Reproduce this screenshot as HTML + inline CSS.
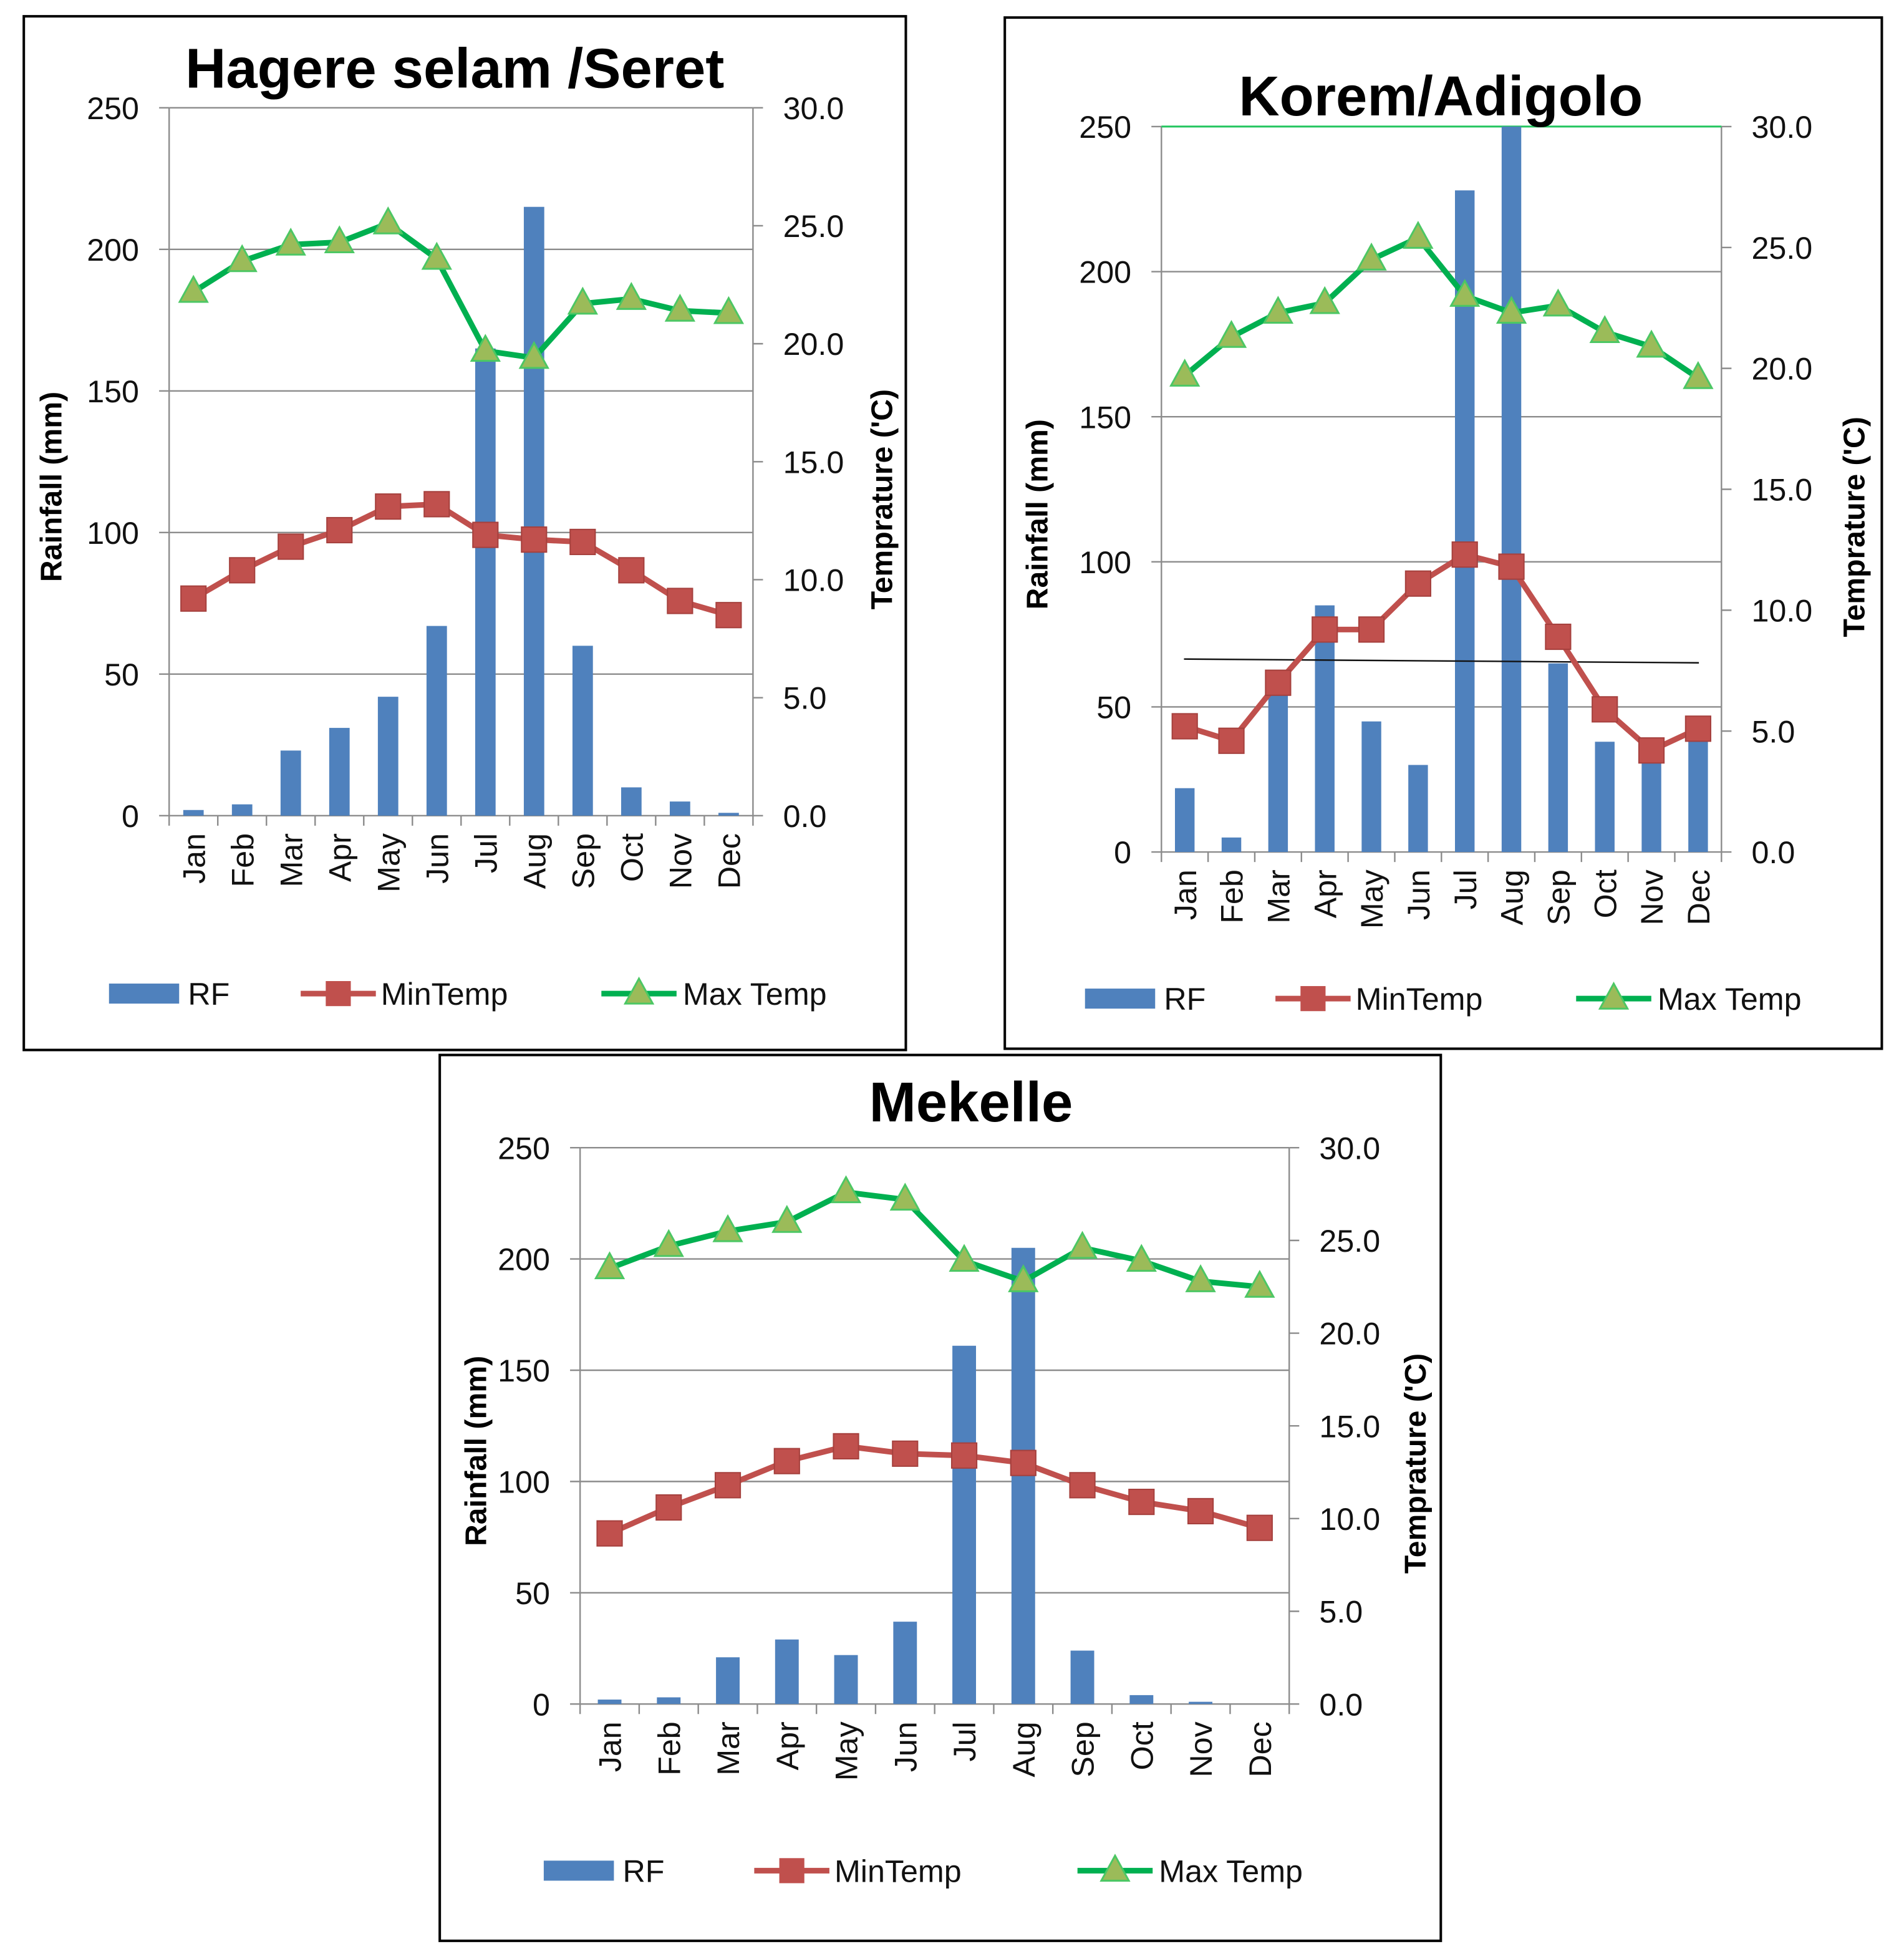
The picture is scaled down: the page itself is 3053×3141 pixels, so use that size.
<!DOCTYPE html>
<html><head><meta charset="utf-8"><style>
html,body{margin:0;padding:0;background:#fff;}
svg{display:block;}
text{font-family:"Liberation Sans",sans-serif;}
</style></head><body>
<svg id="fig" width="3053" height="3141" viewBox="0 0 1519.7 1563.5" xmlns="http://www.w3.org/2000/svg"></svg>
<script>
const months = ["Jan","Feb","Mar","Apr","May","Jun","Jul","Aug","Sep","Oct","Nov","Dec"];
const rfTicks = [0,50,100,150,200,250];
const tempTicks = ["0.0","5.0","10.0","15.0","20.0","25.0","30.0"];

const hagereRF = [2,4,23,31,42,67,165,215,60,10,5,1];
const hagereMin = [9.2,10.4,11.4,12.1,13.1,13.2,11.9,11.7,11.6,10.4,9.1,8.5];
const hagereMax = [22.2,23.5,24.2,24.3,25.1,23.6,19.7,19.4,21.7,21.9,21.4,21.3];

const koremRF = [22,5,55,85,45,30,228,250,65,38,35,40];
const koremMin = [5.2,4.6,7.0,9.2,9.2,11.1,12.3,11.8,8.9,5.9,4.2,5.1];
const koremMax = [19.7,21.3,22.3,22.7,24.5,25.4,23.0,22.3,22.6,21.5,20.9,19.6];

const mekelleRF = [2,3,21,29,22,37,161,205,24,4,1,0];
const mekelleMin = [9.2,10.6,11.8,13.1,13.9,13.5,13.4,13.0,11.8,10.9,10.4,9.5];
const mekelleMax = [23.5,24.7,25.5,26.0,27.6,27.2,23.9,22.8,24.6,23.9,22.8,22.5];

const NS="http://www.w3.org/2000/svg";
const svg=document.getElementById('fig');
function mk(tag,attrs,parent,txt){const e=document.createElementNS(NS,tag);for(const k in attrs)e.setAttribute(k,attrs[k]);if(txt!==undefined)e.textContent=txt;(parent||svg).appendChild(e);return e;}

function drawChart(c){
  const g=mk('g',{});
  
  
  const box=mk('rect',{x:c.box[0],y:c.box[1],width:c.box[2]-c.box[0],height:c.box[3]-c.box[1],fill:'#fff',stroke:'#000','stroke-width':2},g);
  
  
  const L=c.L,R=c.R,Y0=c.Y0,YT=c.YT;
  const cw=(R-L)/12;
  const xC=i=>L+cw*(i+0.5);
  const yRF=v=>Y0-(v/250)*(Y0-YT);
  const yT=v=>Y0-(v/30)*(Y0-YT);
  rfTicks.forEach(v=>{
    const y=yRF(v);
    if(v>0){const gl=mk('line',{x1:L,x2:R,y1:y,y2:y,stroke:'#8c8c8c','stroke-width':1.2},g);
      }
    mk('line',{x1:L-8,x2:L,y1:y,y2:y,stroke:'#8c8c8c','stroke-width':1.2},g);
    const t=mk('text',{x:L-24,y:y+9,'text-anchor':'end','font-size':25,fill:'#111'},g,String(v));
    
  });
  tempTicks.forEach(s=>{
    const y=yT(parseFloat(s));
    mk('line',{x1:R,x2:R+8,y1:y,y2:y,stroke:'#8c8c8c','stroke-width':1.2},g);
    const t=mk('text',{x:R+24,y:y+9,'text-anchor':'start','font-size':25,fill:'#111'},g,s);
    
  });
  mk('line',{x1:L,x2:L,y1:YT,y2:Y0+8,stroke:'#8c8c8c','stroke-width':1.2},g);
  mk('line',{x1:R,x2:R,y1:YT,y2:Y0+8,stroke:'#8c8c8c','stroke-width':1.2},g);
  mk('line',{x1:L,x2:R,y1:Y0,y2:Y0,stroke:'#8c8c8c','stroke-width':1.2},g);
  for(let i=1;i<12;i++){const x=L+cw*i;mk('line',{x1:x,x2:x,y1:Y0,y2:Y0+8,stroke:'#8c8c8c','stroke-width':1.2},g);}
  if(c.topGreen){mk('line',{x1:L,x2:R,y1:YT,y2:YT,stroke:'#22c55e','stroke-width':1.5},g);}
  const bw=cw*(c.barFrac||0.42);
  c.rf.forEach((v,i)=>{
    const b=mk('rect',{x:xC(i)-bw/2,y:yRF(v),width:bw,height:Y0-yRF(v),fill:'#4f81bd'},g);
    
    
  });
  if(c.blackLine){const bl=mk('line',{x1:c.blackLine[0],y1:c.blackLine[1],x2:c.blackLine[2],y2:c.blackLine[3],stroke:'#111','stroke-width':1.2},g);
    }
  const pMin=mk('polyline',{points:c.min.map((v,i)=>xC(i)+','+yT(v)).join(' '),fill:'none',stroke:'#c0504d','stroke-width':4.5},g);
  
  c.min.forEach((v,i)=>{
    const m=mk('rect',{x:xC(i)-10,y:yT(v)-10,width:20,height:20,fill:'#c0504d',stroke:'#a5403d','stroke-width':1},g);
    
  });
  const pMax=mk('polyline',{points:c.max.map((v,i)=>xC(i)+','+yT(v)).join(' '),fill:'none',stroke:'#00b050','stroke-width':4.5},g);
  
  c.max.forEach((v,i)=>{
    const x=xC(i),y=yT(v);
    const m=mk('polygon',{points:`${x},${y-12} ${x-11},${y+8} ${x+11},${y+8}`,fill:'#9bbb59',stroke:'#4cc764','stroke-width':1.5},g);
    
  });
  months.forEach((m,i)=>{
    const x=xC(i)+9,y=Y0+14;
    const t=mk('text',{x:x,y:y,'text-anchor':'end','font-size':25,fill:'#111',transform:`rotate(-90 ${x} ${y})`},g,m);
    
  });
  const tt=mk('text',{x:c.title[1],y:c.title[2],'text-anchor':'middle','font-size':45,'font-weight':'bold',fill:'#000'},g,c.title[0]);
  
  const yl=mk('text',{x:c.ylx,y:(Y0+YT)/2+20,'text-anchor':'middle','font-size':24,'font-weight':'bold',fill:'#000',transform:`rotate(-90 ${c.ylx} ${(Y0+YT)/2+20})`},g,'Rainfall (mm)');
  
  const yr=mk('text',{x:c.yrx,y:(Y0+YT)/2+30,'text-anchor':'middle','font-size':24,'font-weight':'bold',fill:'#000',transform:`rotate(-90 ${c.yrx} ${(Y0+YT)/2+30})`},g,"Temprature ('C)");
  
  const lg=c.leg, ly=c.legY;
  const r1=mk('rect',{x:lg[0],y:ly-8,width:56,height:16,fill:'#4f81bd'},g);
  
  const t1=mk('text',{x:lg[0]+63,y:ly+9,'font-size':25,fill:'#111'},g,'RF');
  
  mk('line',{x1:lg[1],x2:lg[1]+60,y1:ly,y2:ly,stroke:'#c0504d','stroke-width':4.5},g);
  mk('rect',{x:lg[1]+20,y:ly-10,width:20,height:20,fill:'#c0504d'},g);
  const t2=mk('text',{x:lg[1]+64,y:ly+9,'font-size':25,fill:'#111'},g,'MinTemp');
  
  mk('line',{x1:lg[2],x2:lg[2]+60,y1:ly,y2:ly,stroke:'#00b050','stroke-width':4.5},g);
  mk('polygon',{points:`${lg[2]+30},${ly-12} ${lg[2]+19},${ly+8} ${lg[2]+41},${ly+8}`,fill:'#9bbb59',stroke:'#4cc764','stroke-width':1.5},g);
  const t3=mk('text',{x:lg[2]+65,y:ly+9,'font-size':25,fill:'#111'},g,'Max Temp');
  
}

drawChart({id:'hagere',box:[19,13,723,838],L:135,R:601,Y0:651,YT:86,rf:hagereRF,min:hagereMin,max:hagereMax,
  title:['Hagere selam /Seret',363,70],ylx:49,yrx:712,leg:[87,240,480],legY:793,barFrac:0.42});
drawChart({id:'korem',box:[802,14,1502,837],L:927,R:1374,Y0:680,YT:101,rf:koremRF,min:koremMin,max:koremMax,
  title:['Korem/Adigolo',1150,92],ylx:836,yrx:1488,leg:[866,1018,1258],legY:797,barFrac:0.42,topGreen:true,blackLine:[945,526,1356,529]});
drawChart({id:'mekelle',box:[351,842,1150,1549],L:463,R:1029,Y0:1360,YT:916,rf:mekelleRF,min:mekelleMin,max:mekelleMax,
  title:['Mekelle',775,895],ylx:388,yrx:1138,leg:[434,602,860],legY:1493,barFrac:0.4});
</script>
</body></html>
